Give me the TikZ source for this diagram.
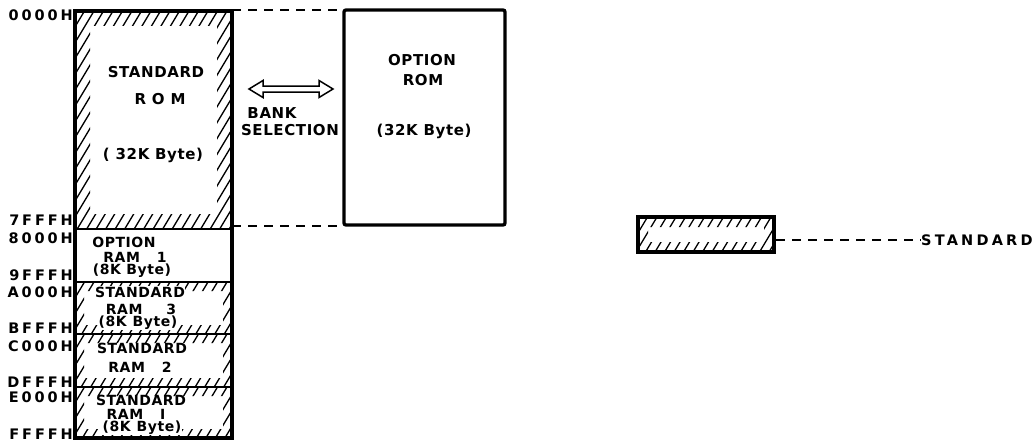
\documentclass[tikz,border=0pt]{standalone}
\usepackage{fontspec}
\setmainfont{DejaVu Sans}
\newfontfamily\lblfont{DejaVu Sans}[LetterSpace=4]
\newfontfamily\addrfont{DejaVu Sans}[LetterSpace=20]
\newfontfamily\widefont{DejaVu Sans}[LetterSpace=22]
\tikzset{
  txt/.style={font={\lblfont\bfseries\fontsize{15}{16}\selectfont}, inner sep=0.5pt, align=center},
  rtxt/.style={font={\lblfont\bfseries\fontsize{14}{15}\selectfont}, inner sep=0.5pt, align=center},
  wtxt/.style={rtxt, fill=white},
  addr/.style={font={\addrfont\bfseries\fontsize{14.5}{15}\selectfont}, inner sep=0pt, anchor=east},
  hatchln/.style={line width=1.3pt, line cap=round},
  thickbox/.style={line width=3.3pt},
  divider/.style={line width=2.2pt},
  dashln/.style={line width=1.5pt, dash pattern=on 9pt off 7pt},
}
\newcommand{\hatchframe}[5]{%
  \begin{scope}[even odd rule]
    \clip (#1,#2) rectangle (#3,#4) ({#1+#5},{#2+#5}) rectangle ({#3-#5},{#4-#5});
    \pgfmathsetmacro\hh{#4-#2}
    \pgfmathtruncatemacro\nn{(#3-#1+0.6*\hh)/9.5+2}
    \foreach \k in {0,...,\nn} {
      \draw[hatchln] ({#1-0.6*\hh+\k*9.5},#4) -- ++({0.6*\hh},{-\hh});
    }
  \end{scope}}
\begin{document}
\begin{tikzpicture}[x=1pt,y=-1pt]
\useasboundingbox (0,0) rectangle (1035,444);
% coordinates
\coordinate (romTR) at (232,10);
\coordinate (romBR) at (232,226);
\coordinate (oromTL) at (344,10);
\coordinate (oromBL) at (344,226);
\coordinate (legR) at (776,240);

% hatching
\hatchframe{75}{11}{232}{229}{15}
\hatchframe{75}{282}{232}{334}{9}
\hatchframe{75}{334}{232}{387}{9}
\hatchframe{75}{387}{232}{438}{9}
\hatchframe{638}{217}{774}{252}{10}

% standard ROM texts
\node[txt] (srom1) at (156,72) {STANDARD};
\node[txt] (srom2) at (160,99) {R O M};
\node[txt] (srom3) at (153,155) {( 32K Byte)};

% RAM texts
\node[rtxt] (oram1) at (124,242) {OPTION};
\node[rtxt] (oram2) at (135,257) {RAM\hspace{17pt}1};
\node[rtxt] (oram3) at (132,271) {(8K Byte)};

\node[wtxt] (sr3a) at (140,292) {STANDARD};
\node[rtxt] (sr3b) at (141,309) {RAM\hspace{24pt}3};
\node[wtxt] (sr3c) at (138,323) {(8K\hspace{6pt}Byte)};

\node[rtxt] (sr2a) at (142,348) {STANDARD};
\node[rtxt] (sr2b) at (140,367) {RAM\hspace{17pt}2};

\node[rtxt] (sr1a) at (141,400) {STANDARD};
\node[rtxt] (sr1b) at (136,414) {RAM\hspace{17pt}I};
\node[wtxt] (sr1c) at (142,428) {(8K\hspace{6pt}Byte)};

% column borders
\draw[divider] (75,229) -- (232,229);
\draw[divider] (75,282) -- (232,282);
\draw[divider] (75,334) -- (232,334);
\draw[divider] (75,387) -- (232,387);
\draw[thickbox] (75,11) rectangle (232,438);

% addresses
\node[addr] (a0) at (73,15) {0000H};
\node[addr] (a1) at (73,220) {7FFFH};
\node[addr] (a2) at (73,238) {8000H};
\node[addr] (a3) at (73,275) {9FFFH};
\node[addr] (a4) at (73,292) {A000H};
\node[addr] (a5) at (73,328) {BFFFH};
\node[addr] (a6) at (73,346) {C000H};
\node[addr] (a7) at (73,382) {DFFFH};
\node[addr] (a8) at (73,397) {E000H};
\node[addr] (a9) at (73,434) {FFFFH};

% option ROM
\draw[thickbox, rounded corners=2pt] (344,10) rectangle (505,225);
\node[txt] (orom1) at (422,60) {OPTION};
\node[txt] (orom2) at (423,80) {ROM};
\node[txt] (orom3) at (424,131) {(32K Byte)};

% dashed connectors
\draw[dashln] (romTR) -- (oromTL);
\draw[dashln] (romBR) -- (oromBL);

% bank selection arrow
\draw[line width=1.5pt, line join=miter] (249,89) -- (263,80.5) -- (263,86) -- (319,86) -- (319,80.5) -- (333,89) -- (319,97.5) -- (319,92) -- (263,92) -- (263,97.5) -- cycle;
\node[txt] (bank1) at (272,113) {BANK};
\node[txt] (bank2) at (290,130) {SELECTION};

% legend
\draw[thickbox] (638,217) rectangle (774,252);
\node[font={\widefont\bfseries\fontsize{14.5}{15}\selectfont}, inner sep=0pt, anchor=west] (legt) at (921,240) {STANDARD};
\draw[dashln] (legR) -- (legt.west);
\end{tikzpicture}
\end{document}
